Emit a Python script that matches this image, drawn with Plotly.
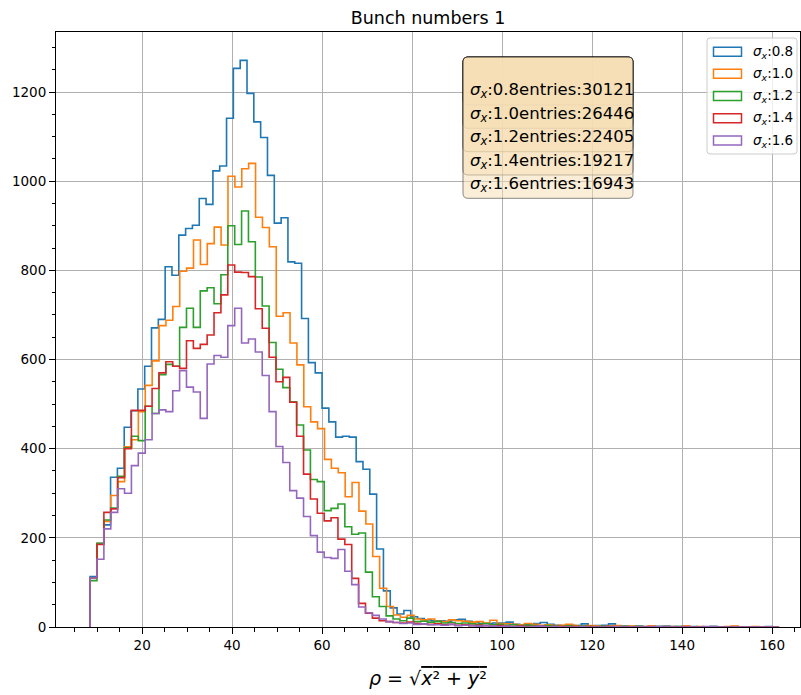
import plotly.graph_objects as go

# ---------------- data ----------------
BIN_START = 8.44
BIN_WIDTHS = [1.516, 1.532, 1.530, 1.530, 1.530]
N_BINS = 100

SIGMAS = ["0.8", "1.0", "1.2", "1.4", "1.6"]
ENTRIES = [30121, 26446, 22405, 19217, 16943]
COLORS = ["#1f77b4", "#ff7f0e", "#2ca02c", "#d62728", "#9467bd"]

counts_s08 = [
    113, 188, 229, 336, 356, 448, 485, 534, 585, 671,
    690, 808, 789, 879, 894, 901, 961, 948, 1023, 1034,
    1141, 1253, 1271, 1197, 1133, 1098, 1013, 906, 918, 819,
    816, 692, 593, 570, 491, 460, 426, 428, 426, 371,
    354, 298, 175, 81, 43, 29, 37, 23, 19, 16,
    14, 14, 13, 16, 17, 13, 10, 8, 8, 9,
    9, 11, 6, 5, 5, 8, 10, 6, 4, 3,
    4, 3, 7, 2, 3, 4, 7, 2, 2, 1,
    2, 1, 0, 1, 2, 1, 1, 0, 1, 0,
    0, 1, 0, 0, 1, 0, 0, 0, 0, 1,
]
counts_s10 = [
    110, 187, 237, 295, 326, 404, 420, 483, 542, 597,
    676, 688, 719, 798, 805, 868, 813, 860, 897, 857,
    1011, 987, 1028, 1040, 919, 896, 853, 697, 705, 637,
    588, 494, 460, 445, 376, 356, 346, 292, 324, 260,
    231, 158, 87, 46, 27, 22, 26, 18, 16, 18,
    13, 12, 16, 14, 13, 11, 12, 9, 15, 8,
    7, 6, 5, 8, 6, 4, 5, 3, 4, 6,
    3, 2, 3, 2, 1, 2, 3, 1, 2, 1,
    1, 2, 0, 1, 1, 0, 2, 0, 1, 0,
    0, 0, 1, 2, 0, 0, 1, 0, 0, 0,
]
counts_s12 = [
    104, 187, 240, 267, 338, 402, 428, 418, 495, 479,
    566, 589, 585, 672, 715, 672, 754, 761, 725, 790,
    900, 858, 933, 864, 785, 720, 638, 578, 537, 505,
    453, 397, 331, 326, 261, 266, 276, 225, 208, 211,
    123, 68, 46, 25, 18, 14, 20, 12, 13, 11,
    12, 9, 10, 8, 9, 7, 6, 8, 5, 6,
    4, 5, 3, 4, 3, 2, 3, 2, 1, 2,
    1, 2, 1, 0, 1, 1, 0, 1, 0, 1,
    0, 0, 1, 0, 0, 1, 0, 0, 0, 0,
    1, 0, 0, 0, 0, 0, 0, 0, 0, 0,
]
counts_s14 = [
    110, 185, 257, 265, 335, 400, 486, 486, 495, 535,
    570, 595, 585, 580, 642, 625, 634, 655, 705, 745,
    812, 796, 795, 786, 714, 670, 605, 550, 560, 504,
    428, 343, 287, 255, 238, 245, 197, 185, 109, 53,
    31, 20, 14, 12, 10, 9, 11, 8, 7, 6,
    7, 5, 6, 4, 5, 3, 4, 3, 2, 3,
    2, 1, 2, 1, 1, 2, 0, 1, 1, 0,
    1, 0, 1, 0, 0, 1, 0, 0, 0, 0,
    0, 1, 0, 0, 0, 0, 1, 0, 0, 0,
    0, 0, 0, 0, 0, 0, 0, 0, 0, 0,
]
counts_s16 = [
    110, 152, 220, 257, 310, 300, 362, 390, 420, 479,
    487, 483, 530, 575, 538, 527, 468, 590, 609, 605,
    676, 715, 637, 646, 617, 564, 483, 405, 369, 306,
    289, 248, 205, 168, 156, 154, 174, 125, 95, 45,
    32, 26, 18, 12, 10, 8, 9, 6, 7, 5,
    5, 4, 6, 3, 4, 3, 2, 3, 2, 1,
    2, 1, 1, 0, 1, 2, 0, 1, 0, 0,
    0, 1, 0, 0, 0, 0, 1, 0, 0, 0,
    0, 0, 1, 0, 0, 0, 0, 0, 0, 1,
    1, 0, 0, 0, 0, 0, 0, 0, 0, 0,
]
SERIES = [counts_s08, counts_s10, counts_s12, counts_s14, counts_s16]

X_TICKS = [20, 40, 60, 80, 100, 120, 140, 160]
Y_TICKS = [0, 200, 400, 600, 800, 1000, 1200]

# ---------------- geometry helpers ----------------
W, H = 801, 695
PL, PR, PT, PB = 56, 800, 32, 627
FONT = "DejaVu Sans"


def pxx(px):
    return (px - PL) / (PR - PL)


def pxy(py):
    return (PB - py) / (PB - PT)


def rrect(x0, y0, x1, y1, r):
    pts = [("M", x0 + r, y0), ("L", x1 - r, y0), ("Q", x1, y0, x1, y0 + r),
           ("L", x1, y1 - r), ("Q", x1, y1, x1 - r, y1), ("L", x0 + r, y1),
           ("Q", x0, y1, x0, y1 - r), ("L", x0, y0 + r), ("Q", x0, y0, x0 + r, y0)]
    out = []
    for p in pts:
        cmd = p[0]
        coords = p[1:]
        s = []
        for i in range(0, len(coords), 2):
            s.append(f"{pxx(coords[i]):.5f},{pxy(coords[i+1]):.5f}")
        out.append(cmd + " " + " ".join(s))
    return " ".join(out) + " Z"


fig = go.Figure()

for counts, width, color in zip(SERIES, BIN_WIDTHS, COLORS):
    edges = [BIN_START + width * i for i in range(N_BINS + 1)]
    xs = [edges[0]] + edges
    ys = [0] + counts + [0]
    fig.add_trace(go.Scatter(x=xs, y=ys, mode="lines", line_shape="hv",
                             line=dict(color=color, width=1.6),
                             showlegend=False, hoverinfo="skip"))

shapes = []
annotations = []

# stacked text boxes
box_bottoms = [105, 128.3, 151.7, 175, 198.3]
for b in box_bottoms:
    shapes.append(dict(type="path", xref="paper", yref="paper",
                       path=rrect(463, 57, 633, b, 5),
                       fillcolor="rgba(245,222,179,0.5)",
                       line=dict(color="rgba(0,0,0,0.45)", width=1)))
row_y = [91, 114.3, 137.7, 161, 184.3]
for s, e, ry in zip(SIGMAS, ENTRIES, row_y):
    annotations.append(dict(xref="paper", yref="paper", x=pxx(468), y=pxy(ry),
                            xanchor="left", yanchor="middle", showarrow=False,
                            text=f"<i>σ</i><sub><i>x</i></sub>:{s}entries:{e}",
                            font=dict(family=FONT, size=16.5, color="black")))

# legend
shapes.append(dict(type="path", xref="paper", yref="paper",
                   path=rrect(707, 38, 797, 154, 3),
                   fillcolor="rgba(255,255,255,0.8)",
                   line=dict(color="#cccccc", width=1)))
leg_y = [51.7, 73.8, 96, 118.3, 140.6]
for s, c, ly in zip(SIGMAS, COLORS, leg_y):
    shapes.append(dict(type="rect", xref="paper", yref="paper",
                       x0=pxx(713.5), x1=pxx(741.5), y0=pxy(ly + 4.5), y1=pxy(ly - 4.5),
                       fillcolor="rgba(0,0,0,0)", line=dict(color=c, width=1.5)))
    annotations.append(dict(xref="paper", yref="paper", x=pxx(751), y=pxy(ly),
                            xanchor="left", yanchor="middle", showarrow=False,
                            text=f"<i>σ</i><sub><i>x</i></sub>:{s}",
                            font=dict(family=FONT, size=13.5, color="black")))

# x-axis label
annotations.append(dict(xref="paper", yref="paper", x=0.5, y=pxy(678),
                        xanchor="center", yanchor="middle", showarrow=False,
                        text="<i>ρ</i> = √<span style='text-decoration:overline'><i>x</i>² + <i>y</i>²</span>",
                        font=dict(family=FONT, size=19, color="black")))

axis_common = dict(showline=True, linecolor="black", linewidth=1, mirror=True,
                   ticks="outside", ticklen=6, tickwidth=1, tickcolor="black",
                   showgrid=True, gridcolor="#b0b0b0", gridwidth=1.1,
                   zeroline=False,
                   tickfont=dict(family=FONT, size=13.5, color="black"))

fig.update_layout(
    width=W, height=H,
    margin=dict(l=PL, r=W - PR, t=PT, b=H - PB, pad=0),
    paper_bgcolor="white", plot_bgcolor="white",
    title=dict(text="Bunch numbers 1", x=0.5, xref="paper", xanchor="center",
               y=1 - 18 / H, yref="container", yanchor="middle",
               font=dict(family=FONT, size=17.5, color="black")),
    xaxis=dict(range=[0.86, 166.2], tickvals=X_TICKS,
               ticktext=[str(v) for v in X_TICKS],
               minor=dict(dtick=5, tick0=0, ticks="outside", ticklen=3.5,
                          tickcolor="black", showgrid=False),
               **axis_common),
    yaxis=dict(range=[0, 1334.6], tickvals=Y_TICKS,
               ticktext=[str(v) for v in Y_TICKS],
               minor=dict(dtick=50, tick0=0, ticks="outside", ticklen=3.5,
                          tickcolor="black", showgrid=False),
               **axis_common),
    shapes=shapes,
    annotations=annotations,
    showlegend=False,
)

fig.write_html("out.html")
